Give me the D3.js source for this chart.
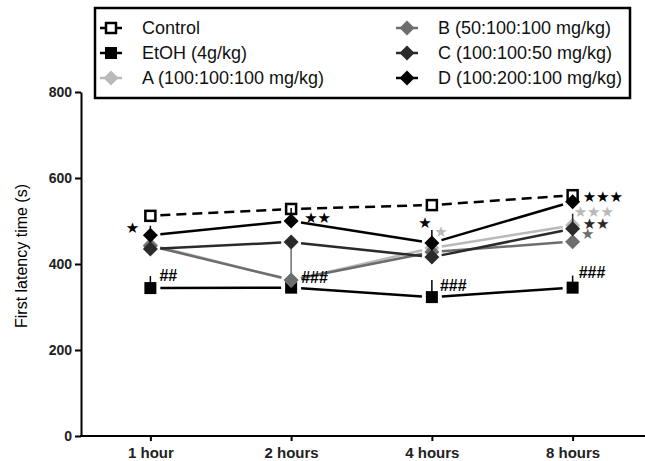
<!DOCTYPE html>
<html>
<head>
<meta charset="utf-8">
<script src="https://cdn.jsdelivr.net/npm/d3@7"></script>
<style>
  body { margin: 0; background: #fff; }
  text { font-family: "Liberation Sans", Arial, sans-serif; }
</style>
</head>
<body>
<svg id="chart" width="645" height="461"></svg>
<script>
// time points (x categories)
const times = ['1 hour', '2 hours', '4 hours', '8 hours'];

// group names, as in the legend
const groupNames = [
    'Control',
    'EtOH (4g/kg)',
    'A (100:100:100 mg/kg)',
    'B (50:100:100 mg/kg)',
    'C (100:100:50 mg/kg)',
    'D (100:200:100 mg/kg)'
];

// mean first latency time (s)
const control = [512, 528, 537, 560];
const etoh = [344, 345, 323, 345];
const groupA = [445, 362, 437, 490];
const groupB = [442, 363, 428, 452];
const groupC = [435, 451, 416, 482];
const groupD = [467, 500, 449, 545];

// SEM (only upper bars drawn)
const controlSem = [8, 8, 8, 8];
const etohSem = [28, 20, 40, 28];
const groupASem = [12, 15, 18, 15];
const groupBSem = [12, 95, 12, 12];
const groupCSem = [12, 12, 12, 35];
const groupDSem = [22, 30, 30, 12];

const yTicks = [0, 200, 400, 600, 800];

// significance marks: group index, time index, label
const sigSeries = [5, 1, 5, 1, 5, 2, 1, 5, 2, 4, 3, 1];
const sigTimes = [0, 0, 1, 1, 2, 2, 2, 3, 3, 3, 3, 3];
const sigText = ['★', '##', '★★', '###', '★', '★', '###', '★★★', '★★★', '★★', '★', '###'];

const values = [control, etoh, groupA, groupB, groupC, groupD];
const sems = [controlSem, etohSem, groupASem, groupBSem, groupCSem, groupDSem];

// styles
const colors = ['#000', '#000', '#b9b9b9', '#6d6d6d', '#2a2a2a', '#000'];
const shapes = ['openSquare', 'square', 'diamond', 'diamond', 'diamond', 'diamond'];
const sigOffsets = [
    [-18, -7, 'middle'], [9, -13, 'start'], [13, -3, 'start'], [10, -10, 'start'],
    [-7, -20, 'middle'], [9, -16, 'middle'], [8, -12, 'start'], [10, -5, 'start'],
    [1, -13, 'start'], [10, -5, 'start'], [15, -8, 'middle'], [6, -15, 'start']
];

const svg = d3.select('#chart');

const x = d3.scalePoint()
    .domain(times)
    .range([80, 643])
    .padding(0.5);

const y = d3.scaleLinear()
    .domain([0, 800])
    .range([436, 92]);

// axes
const yAxis = svg.append('g')
    .attr('transform', 'translate(81,0)')
    .call(d3.axisLeft(y).tickValues(yTicks).tickSize(6).tickPadding(3).tickSizeOuter(0));
yAxis.select('.domain').attr('stroke-width', 2);
yAxis.selectAll('.tick line').attr('stroke-width', 2);
yAxis.selectAll('.tick text')
    .style('font-size', '14px')
    .style('font-weight', 'bold')
    .style('font-family', '"Liberation Sans", Arial, sans-serif')
    .attr('fill', '#222');

const xAxis = svg.append('g')
    .attr('transform', 'translate(0,436)')
    .call(d3.axisBottom(x).tickSize(5).tickPadding(6).tickSizeOuter(0));
xAxis.select('.domain').attr('d', 'M80,0H645').attr('stroke-width', 2);
xAxis.selectAll('.tick line').attr('stroke-width', 2);
xAxis.selectAll('.tick text')
    .style('font-size', '15px')
    .style('font-weight', 'bold')
    .style('font-family', '"Liberation Sans", Arial, sans-serif')
    .attr('fill', '#222');

svg.append('text')
    .attr('transform', 'translate(27,256) rotate(-90)')
    .attr('text-anchor', 'middle')
    .style('font-size', '16px')
    .text('First latency time (s)');

function drawMarker(g, shape, color, cx, cy) {
    if (shape === 'openSquare') {
        g.append('rect')
            .attr('x', cx - 5).attr('y', cy - 5)
            .attr('width', 10).attr('height', 10)
            .attr('fill', '#fff').attr('stroke', color).attr('stroke-width', 2.5);
    } else if (shape === 'square') {
        g.append('rect')
            .attr('x', cx - 6).attr('y', cy - 6)
            .attr('width', 12).attr('height', 12)
            .attr('fill', color);
    } else {
        const r = 7.5;
        g.append('path')
            .attr('d', `M${cx},${cy - r}L${cx + r},${cy}L${cx},${cy + r}L${cx - r},${cy}Z`)
            .attr('fill', color);
    }
}

// connecting lines, with a small gap round each marker
const gap = 10;
values.forEach(function (vals, s) {
    const g = svg.append('g');
    for (let i = 0; i < vals.length - 1; i++) {
        const x1 = x(times[i]), y1 = y(vals[i]);
        const x2 = x(times[i + 1]), y2 = y(vals[i + 1]);
        const len = Math.hypot(x2 - x1, y2 - y1);
        const ux = (x2 - x1) / len, uy = (y2 - y1) / len;
        g.append('line')
            .attr('x1', x1 + ux * gap).attr('y1', y1 + uy * gap)
            .attr('x2', x2 - ux * gap).attr('y2', y2 - uy * gap)
            .attr('stroke', colors[s])
            .attr('stroke-width', 2.5)
            .attr('stroke-dasharray', s === 0 ? '10,6' : null);
    }
});

// error bars and markers
values.forEach(function (vals, s) {
    const g = svg.append('g');
    vals.forEach(function (v, i) {
        g.append('line')
            .attr('x1', x(times[i])).attr('x2', x(times[i]))
            .attr('y1', y(v)).attr('y2', y(v + sems[s][i]))
            .attr('stroke', colors[s]).attr('stroke-width', 1.5);
        drawMarker(g, shapes[s], colors[s], x(times[i]), y(v));
    });
});

// significance marks
svg.append('g')
    .selectAll('text')
    .data(sigText)
    .enter()
    .append('text')
    .attr('x', (t, k) => x(times[sigTimes[k]]) + sigOffsets[k][0])
    .attr('y', (t, k) => y(values[sigSeries[k]][sigTimes[k]]) + sigOffsets[k][1])
    .attr('text-anchor', (t, k) => sigOffsets[k][2])
    .attr('dominant-baseline', 'central')
    .attr('fill', (t, k) => sigSeries[k] === 1 ? '#000' : colors[sigSeries[k]])
    .style('font-family', (t) => t.indexOf('#') >= 0 ? '"Liberation Sans", Arial, sans-serif' : '"DejaVu Sans", sans-serif')
    .style('font-size', (t) => t.indexOf('#') >= 0 ? '16px' : '15px')
    .style('font-weight', (t) => t.indexOf('#') >= 0 ? 'bold' : 'normal')
    .text(t => t);

// legend
const legend = svg.append('g');
legend.append('rect')
    .attr('x', 95).attr('y', 8)
    .attr('width', 535).attr('height', 90)
    .attr('fill', '#fff')
    .attr('stroke', '#000')
    .attr('stroke-width', 2.5);

groupNames.forEach(function (name, s) {
    const col = Math.floor(s / 3);
    const row = s % 3;
    const mx = col === 0 ? 111 : 407;
    const ty = 28 + row * 25;
    const g = legend.append('g');
    g.append('line')
        .attr('x1', mx - 11).attr('x2', mx + 11)
        .attr('y1', ty).attr('y2', ty)
        .attr('stroke', colors[s]).attr('stroke-width', 2.5);
    drawMarker(g, shapes[s], colors[s], mx, ty);
    g.append('text')
        .attr('x', mx + 31)
        .attr('y', ty)
        .attr('dominant-baseline', 'central')
        .style('font-size', '18px')
        .attr('fill', '#111')
        .text(name);
});
</script>
</body>
</html>
